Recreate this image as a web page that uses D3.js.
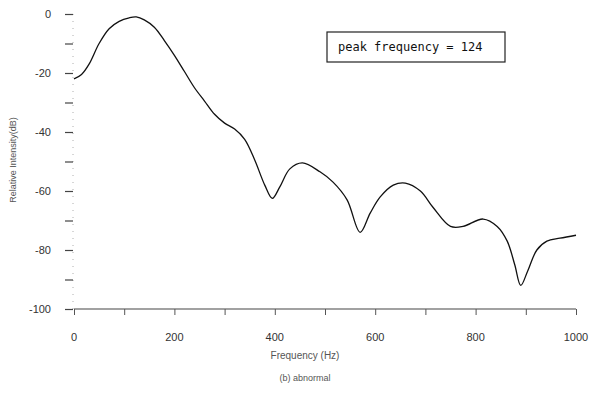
<!DOCTYPE html>
<html>
<head>
<meta charset="utf-8">
<script src="https://cdn.jsdelivr.net/npm/d3@7"></script>
<style>
  body { margin: 0; background: #fff; }
  text { font-family: "Liberation Sans", Arial, sans-serif; fill: #333; }
</style>
</head>
<body>
<div id="chart"></div>
<script>
// DATA
const freqs = [0, 15, 30, 50, 70, 90, 110, 124, 140, 160, 180, 200, 220, 240, 260, 280, 300, 320, 340, 360,
  380, 395, 410, 430, 455, 490, 516, 544, 570, 590, 610, 636, 660, 690, 715, 750, 775, 815, 843, 863,
  878, 890, 904, 922, 942, 968, 1000]
const intensity = [-22, -20.5, -17, -10, -5, -2.5, -1.3, -1, -2, -4.5, -9, -14, -19.5, -25, -29.5, -34, -37, -39, -42.5, -49.5,
  -58, -62.5, -58.6, -52.5, -50.5, -53.5, -57, -63, -74, -67.5, -62, -58, -57.3, -60, -65.5, -72, -72, -69.5, -72, -77,
  -85, -92, -87, -80, -77, -76, -75]
const xTicks = [0, 200, 400, 600, 800, 1000]
const xMinor = [100, 300, 500, 700, 900]
const yTicks = [0, -20, -40, -60, -80, -100]
const yMinor = [-10, -30, -50, -70, -90]
const peakFreq = 124

const data = freqs.map((f, i) => ({f: f, db: intensity[i]}))

const width = 593, height = 397

const svg = d3.select("#chart")
  .append("svg")
  .attr("width", width)
  .attr("height", height)

// SCALES
const xScale = d3.scaleLinear().domain([0, 1000]).range([74, 576])
const yScale = d3.scaleLinear().domain([0, -100]).range([14, 309])

// X AXIS
svg.append("line")
  .attr("x1", xScale(0)).attr("x2", xScale(1000))
  .attr("y1", yScale(-100)).attr("y2", yScale(-100))
  .attr("stroke", "#444").attr("stroke-width", 1.2)

svg.append("g")
  .attr("transform", `translate(0, ${yScale(-100)})`)
  .call(d3.axisBottom(xScale).tickValues(xTicks.concat(xMinor)).tickSize(6).tickFormat(""))
  .call(g => g.select(".domain").remove())
  .call(g => g.selectAll("line").attr("stroke", "#555"))

svg.append("g")
  .selectAll("text")
  .data(xTicks)
  .join("text")
  .attr("x", d => xScale(d))
  .attr("y", 341)
  .attr("text-anchor", "middle")
  .attr("font-size", 11)
  .text(d => d)

// Y AXIS
svg.append("line")
  .attr("x1", xScale(0) - 1).attr("x2", xScale(0) - 1)
  .attr("y1", yScale(0)).attr("y2", yScale(-100))
  .attr("stroke", "#999").attr("stroke-width", 0.8)
  .attr("stroke-dasharray", "1,6")

svg.append("g")
  .attr("transform", `translate(${xScale(0) - 1}, 0)`)
  .call(d3.axisLeft(yScale).tickValues(yTicks.concat(yMinor)).tickSize(8).tickFormat(""))
  .call(g => g.select(".domain").remove())
  .call(g => g.selectAll("line").attr("stroke", "#444").attr("stroke-width", 1.2))

svg.append("g")
  .selectAll("text")
  .data(yTicks)
  .join("text")
  .attr("x", 51)
  .attr("y", d => yScale(d) + 4)
  .attr("text-anchor", "end")
  .attr("font-size", 11)
  .text(d => d)

// AXIS TITLES
svg.append("text")
  .attr("transform", `translate(16, 160) rotate(-90)`)
  .attr("text-anchor", "middle")
  .attr("font-size", 9)
  .style("fill", "#555")
  .text("Relative Intensity(dB)")

svg.append("text")
  .attr("x", 305).attr("y", 359)
  .attr("text-anchor", "middle")
  .attr("font-size", 10)
  .style("fill", "#555")
  .text("Frequency (Hz)")

svg.append("text")
  .attr("x", 305).attr("y", 381)
  .attr("text-anchor", "middle")
  .attr("font-size", 9)
  .style("fill", "#555")
  .text("(b) abnormal")

// CURVE
const line = d3.line()
  .x(d => xScale(d.f))
  .y(d => yScale(d.db))
  .curve(d3.curveCatmullRom)

svg.append("path")
  .datum(data)
  .attr("d", line)
  .attr("fill", "none")
  .attr("stroke", "#111")
  .attr("stroke-width", 1.3)

// ANNOTATION BOX
svg.append("rect")
  .attr("x", 327).attr("y", 32)
  .attr("width", 178).attr("height", 30)
  .attr("fill", "none")
  .attr("stroke", "#222")
  .attr("stroke-width", 1.2)

svg.append("text")
  .attr("x", 338).attr("y", 51)
  .style("font-family", "'DejaVu Sans Mono', monospace")
  .style("font-size", "12px")
  .style("fill", "#111")
  .text("peak frequency = " + peakFreq)
</script>
</body>
</html>
